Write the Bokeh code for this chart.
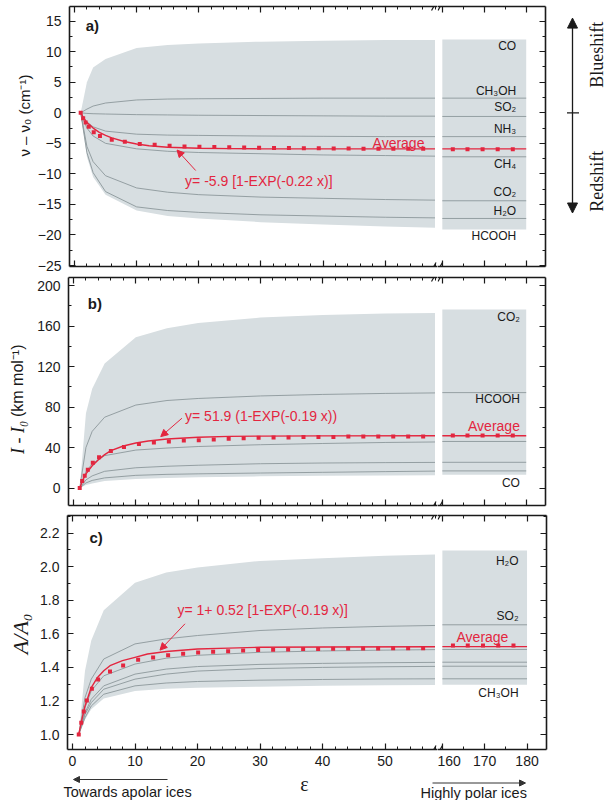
import math
from bokeh.plotting import figure
from bokeh.layouts import column, row
from bokeh.models import (LinearAxis, SingleIntervalTicker, Range1d, Label, Arrow, NormalHead,
                          CustomLabelingPolicy, PrintfTickFormatter)
from bokeh.embed import file_html
from bokeh.resources import INLINE

# ---------------- data ----------------
EPS_L = [1, 2, 3, 5, 10, 15, 20, 30, 40, 50, 58]      # dielectric constant, left segment
EPS_R = [160, 180]                                      # after the axis break

AVG_X = [1, 1.4, 1.8, 2.3, 3.1, 4.1, 6, 8.1, 10.5, 12.9, 15.3, 17.7, 20.1, 22.5,
         24.9, 27.3, 29.7, 32.1, 34.5, 36.9, 39.3, 41.7, 44.1, 46.5, 48.9, 51.3, 53.7, 56.1]
AVG_XR = [162.5, 166, 169.6, 173.2, 176.8]
FIT_X = [1, 1.5, 2, 3, 4, 5, 6, 8, 10, 12, 15, 20, 25, 30, 40, 58]

# panel a : frequency shift (cm-1)
A_CO    = [0, 5.0, 7.4, 8.8, 10.6, 11.1, 11.35, 11.65, 11.8, 11.9, 11.9]
A_CH3OH = [0, 0.6, 1.1, 1.6, 2.1, 2.25, 2.3, 2.35, 2.4, 2.4, 2.4]
A_SO2   = [0, -0.1, -0.15, -0.2, -0.3, -0.35, -0.4, -0.45, -0.5, -0.55, -0.55]
A_NH3   = [0, -1.5, -2.3, -3.0, -3.5, -3.65, -3.7, -3.8, -3.85, -3.9, -3.9]
A_CH4   = [0, -2.5, -3.8, -5.0, -5.9, -6.3, -6.5, -6.7, -6.9, -7.0, -7.1]
A_CO2   = [0, -5.5, -8.0, -10.3, -12.3, -13.0, -13.4, -13.8, -14.0, -14.2, -14.3]
A_H2O   = [0, -6.5, -9.8, -12.9, -15.4, -16.0, -16.3, -16.7, -16.9, -17.1, -17.2]
A_HCOOH = [0, -7.2, -10.5, -13.4, -16.0, -16.9, -17.3, -17.9, -18.3, -18.6, -18.8]
A_RIGHT = [12.0, 2.4, -0.6, -3.9, -7.2, -14.4, -17.3, -19.1]
A_NAMES = ["CO", "CH₃OH", "SO₂", "NH₃", "CH₄", "CO₂", "H₂O", "HCOOH"]
A_AVG = [0, -0.9, -1.6, -2.3, -3.2, -3.8, -4.4, -4.75, -5.1, -5.25, -5.4, -5.5, -5.55, -5.6,
         -5.65, -5.7, -5.72, -5.75, -5.78, -5.8, -5.82, -5.84, -5.86, -5.87, -5.88, -5.89, -5.9, -5.9]
A_AVG_R = [-5.95, -5.95, -5.95, -5.95, -5.95]
A_FIT = [0, -0.9, -1.6, -2.5, -3.2, -3.7, -4.1, -4.7, -5.1, -5.4, -5.65, -5.8, -5.87, -5.9, -5.9, -5.9]
A_FIT_R = -5.9

# panel b : intensity change (km mol-1)
B_CO2    = [0, 74, 98, 123, 149, 158, 163, 168.5, 171, 172.5, 173]
B_HCOOH  = [0, 40, 56, 70, 82, 86.5, 88.5, 91, 92.5, 93.5, 94]
B_OTHER1 = [0, 16, 24, 32, 37.5, 39.5, 41, 42.8, 44, 45, 45.5]
B_OTHER2 = [0, 8, 12, 16.5, 20, 21.5, 22.5, 24, 24.7, 25.1, 25.3]
B_OTHER3 = [0, 5, 7.5, 10, 12.5, 13.5, 14, 14.8, 15.5, 16.2, 16.7]
B_CO     = [0, 3, 4.5, 6.8, 9, 10, 10.6, 11.5, 12, 12.4, 12.6]
B_RIGHT = [176.5, 94.3, 46, 25.4, 16.9, 13]
B_NAMES = ["CO₂", "HCOOH", "CO"]
B_AVG = [0, 7, 12, 18, 25, 30.5, 36.7, 40.5, 43.6, 45.1, 46, 47, 47.2, 48, 48.7, 49.3, 49.7,
         49.9, 50, 50.3, 50.4, 50.5, 50.8, 51, 51, 51, 51, 51]
B_AVG_R = [52, 52, 52, 52, 52]
B_FIT = [0, 8, 14, 22, 28, 33, 37, 41.5, 44.5, 46.5, 48.5, 50.2, 51, 51.3, 51.5, 51.6]
B_FIT_R = 51.6

# panel c : intensity ratio A/A0
C_H2O    = [1.0, 1.38, 1.56, 1.74, 1.905, 1.965, 1.995, 2.035, 2.05, 2.065, 2.073]
C_SO2    = [1.0, 1.22, 1.33, 1.45, 1.54, 1.57, 1.59, 1.62, 1.635, 1.645, 1.65]
C_OTHER1 = [1.0, 1.16, 1.26, 1.35, 1.42, 1.455, 1.472, 1.49, 1.498, 1.503, 1.506]
C_OTHER2 = [1.0, 1.13, 1.21, 1.29, 1.36, 1.39, 1.405, 1.418, 1.424, 1.428, 1.43]
C_OTHER3 = [1.0, 1.12, 1.19, 1.27, 1.33, 1.36, 1.378, 1.393, 1.4, 1.404, 1.406]
C_OTHER4 = [1.0, 1.1, 1.17, 1.24, 1.29, 1.307, 1.316, 1.324, 1.328, 1.331, 1.332]
C_CH3OH  = [1.0, 1.09, 1.15, 1.215, 1.26, 1.272, 1.278, 1.285, 1.29, 1.293, 1.295]
C_RIGHT = [2.097, 1.654, 1.507, 1.431, 1.407, 1.332, 1.296]
C_NAMES = ["H₂O", "SO₂", "CH₃OH"]
C_AVG = [1.0, 1.07, 1.137, 1.203, 1.272, 1.328, 1.376, 1.411, 1.445, 1.459, 1.472, 1.481, 1.489,
         1.493, 1.497, 1.501, 1.503, 1.505, 1.507, 1.509, 1.51, 1.511, 1.512, 1.513, 1.513,
         1.514, 1.514, 1.514]
C_AVG_R = [1.53, 1.53, 1.53, 1.53, 1.53]
C_FIT = [1.0, 1.09, 1.17, 1.28, 1.34, 1.38, 1.41, 1.44, 1.46, 1.48, 1.495, 1.51, 1.515, 1.52, 1.522, 1.523]
C_FIT_R = 1.524

# ---------------- styling / layout ----------------
RED = "#e3263f"
BAND = "#d7dee1"
GRAY = "#8c979b"
INK = "#1a1a1a"
SANS = "Liberation Sans"
SERIF = "Liberation Serif"

XL = (-0.8, 58.4)
XR = (158.85, 184.6)
TITLE_W = 34                       # strip that carries the vertical axis titles
FW_L, FW_R, BORDER_L = 370, 111, 33
HIDE_LABELS = "for (const i of indices) indices.unset(i)"


def style_axis(ax, labels, standoff=7):
    ax.axis_line_color = INK
    ax.axis_line_width = 1.6
    ax.major_tick_line_color = INK
    ax.minor_tick_line_color = INK
    ax.major_tick_line_width = 1.2
    ax.minor_tick_line_width = 1.0
    ax.major_tick_in = 6
    ax.major_tick_out = 0
    ax.minor_tick_in = 3
    ax.minor_tick_out = 0
    if labels:
        ax.major_label_text_font = SANS
        ax.major_label_text_font_size = "14px"
        ax.major_label_text_color = INK
        ax.major_label_standoff = standoff
    else:
        ax.major_label_policy = CustomLabelingPolicy(code=HIDE_LABELS)
        ax.major_label_text_font_size = "1px"
        ax.major_label_standoff = 0
    return ax


def make_axis(step, minor, labels, standoff=6):
    return style_axis(LinearAxis(ticker=SingleIntervalTicker(interval=step, num_minor_ticks=minor)),
                      labels, standoff)


def make_fig(width, height, xr, yr, bt, bb, bl, br):
    f = figure(width=width, height=height, x_range=Range1d(*xr), y_range=yr, title=None,
               output_backend="svg", toolbar_location=None,
               x_axis_location=None, y_axis_location=None)
    f.min_border_top = bt
    f.min_border_bottom = bb
    f.min_border_left = bl
    f.min_border_right = br
    f.outline_line_color = None
    f.grid.visible = False
    f.background_fill_color = "white"
    f.border_fill_color = "white"
    return f


def txt(f, x, y, text, size="12px", color=INK, font=SANS, align="left", style="normal", angle=0):
    f.add_layout(Label(x=x, y=y, text=text, text_font=font, text_font_size=size, text_color=color,
                       text_align=align, text_baseline="middle", text_font_style=style, angle=angle))


def build_panel(yr, frame_h, bt, bb, y_step, y_minor, curves, right_vals, avg_l, avg_r, fit_l, fit_r,
                x_labels, y_fmt=None):
    h = bt + frame_h + bb
    ft = make_fig(TITLE_W, h, (0, TITLE_W), yr, bt, bb, 0, 0)
    fl = make_fig(BORDER_L + FW_L, h, XL, yr, bt, bb, BORDER_L, 0)
    fr = make_fig(FW_R + 2, h, XR, yr, bt, bb, 0, 2)
    fl.varea(x=EPS_L, y1=curves[-1], y2=curves[0], fill_color=BAND)
    fr.varea(x=EPS_R, y1=[right_vals[-1]] * 2, y2=[right_vals[0]] * 2, fill_color=BAND)
    for c in curves[1:-1]:
        fl.line(EPS_L, c, line_color=GRAY, line_width=0.9)
    for v in right_vals[1:-1]:
        fr.line(EPS_R, [v, v], line_color=GRAY, line_width=0.9)
    fl.line(FIT_X, fit_l, line_color=RED, line_width=1.4)
    fr.line(EPS_R, [fit_r, fit_r], line_color=RED, line_width=1.4)
    fl.scatter(AVG_X, avg_l, marker="square", size=4, fill_color=RED, line_color=None)
    fr.scatter(AVG_XR, avg_r, marker="square", size=4, fill_color=RED, line_color=None)

    yax = make_axis(y_step, y_minor, True, standoff=8)
    if y_fmt:
        yax.formatter = PrintfTickFormatter(format=y_fmt)
    fl.add_layout(yax, "left")
    fl.add_layout(make_axis(10, 5, False), "above")
    fl.add_layout(make_axis(10, 5, x_labels), "below")
    fr.add_layout(make_axis(y_step, y_minor, False), "right")
    fr.add_layout(make_axis(10, 2, False), "above")
    fr.add_layout(make_axis(10, 2, x_labels), "below")

    # axis-break marks
    sxl = FW_L / (XL[1] - XL[0])
    sxr = FW_R / (XR[1] - XR[0])
    sy = frame_h / (yr.end - yr.start)
    for ye in (yr.start, yr.end):
        fl.add_layout(Arrow(end=None, x_start=XL[1] - 6 / sxl, y_start=ye - 4 / sy,
                            x_end=XL[1] - 1.5 / sxl, y_end=ye + 4 / sy, line_color=INK, line_width=1.2))
        fr.add_layout(Arrow(end=None, x_start=XR[0] + 0.5 / sxr, y_start=ye - 4 / sy,
                            x_end=XR[0] + 5 / sxr, y_end=ye + 4 / sy, line_color=INK, line_width=1.2))
    return ft, fl, fr, h


def eq_arrow(f, xs, ys, xe, ye):
    f.add_layout(Arrow(end=NormalHead(size=7, fill_color=RED, line_color=RED),
                       x_start=xs, y_start=ys, x_end=xe, y_end=ye, line_color=RED, line_width=1))


# ---------- panel a ----------
A_YR = Range1d(-25.16, 17.4)
fat, fal, far, ha = build_panel(A_YR, 260, 6, 7, 5, 2,
                                [A_CO, A_CH3OH, A_SO2, A_NH3, A_CH4, A_CO2, A_H2O, A_HCOOH],
                                A_RIGHT, A_AVG, A_AVG_R, A_FIT, A_FIT_R, False)
txt(fat, 24, -0.45, "ν – ν₀ (cm⁻¹)", size="15px", align="center", angle=math.pi / 2)
txt(fal, 1.8, 14.3, "a)", size="15px", style="bold")
txt(fal, 17.8, -11.1, "y= -5.9 [1-EXP(-0.22 x)]", size="14px", color=RED)
eq_arrow(fal, 19.5, -9.45, 16.5, -6.1)
txt(fal, 56.3, -5.0, "Average", size="14px", color=RED, align="right")
for name, yv in zip(A_NAMES, [11.0, 3.5, 0.9, -2.6, -8.3, -13.0, -16.0, -20.1]):
    txt(far, 177.6, yv, name, align="right")

fs = make_fig(55, ha, (0, 55), A_YR, 6, 7, 0, 0)
fs.add_layout(Arrow(start=NormalHead(size=10, fill_color=INK, line_color=INK),
                    end=NormalHead(size=10, fill_color=INK, line_color=INK),
                    x_start=22, y_start=-16.4, x_end=22, y_end=15.5, line_color=INK, line_width=1.3))
fs.add_layout(Arrow(end=None, x_start=16.5, y_start=0, x_end=28.5, y_end=0, line_color=INK, line_width=1.2))
txt(fs, 46, 9.5, "Blueshift", size="18px", font=SERIF, align="center", angle=math.pi / 2)
txt(fs, 46, -11.2, "Redshift", size="18px", font=SERIF, align="center", angle=math.pi / 2)

# ---------- panel b ----------
B_YR = Range1d(-17.3, 208.1)
fbt, fbl, fbr, hb = build_panel(B_YR, 231, 2, 3, 40, 2,
                                [B_CO2, B_HCOOH, B_OTHER1, B_OTHER2, B_OTHER3, B_CO],
                                B_RIGHT, B_AVG, B_AVG_R, B_FIT, B_FIT_R, False)
txt(fbt, 17, 50, "I - I₀", size="18px", font=SERIF, style="italic", align="center", angle=math.pi / 2)
txt(fbt, 17, 106, "(km mol⁻¹)", size="16px", align="center", angle=math.pi / 2)
txt(fbl, 2.3, 182, "b)", size="15px", style="bold")
txt(fbl, 17.9, 71, "y= 51.9 (1-EXP(-0.19 x))", size="14px", color=RED)
eq_arrow(fbl, 17.4, 69, 14.0, 50.8)
txt(fbr, 178.5, 60.8, "Average", size="14px", color=RED, align="right")
for name, yv in zip(B_NAMES, [169, 87.8, 4.9]):
    txt(fbr, 178.5, yv, name, align="right")

# ---------- panel c ----------
C_YR = Range1d(0.9106, 2.3055)
fct, fcl, fcr, hc = build_panel(C_YR, 234, 6, 24, 0.2, 2,
                                [C_H2O, C_SO2, C_OTHER1, C_OTHER2, C_OTHER3, C_OTHER4, C_CH3OH],
                                C_RIGHT, C_AVG, C_AVG_R, C_FIT, C_FIT_R, True, y_fmt="%.1f")
txt(fct, 20, 1.6, "A/A₀", size="22px", font=SERIF, style="italic", align="center", angle=math.pi / 2)
txt(fcl, 2.7, 2.176, "c)", size="15px", style="bold")
txt(fcl, 16.8, 1.745, "y= 1+ 0.52 [1-EXP(-0.19 x)]", size="14px", color=RED)
eq_arrow(fcl, 18.0, 1.66, 14.0, 1.503)
txt(fcr, 175.6, 1.58, "Average", size="14px", color=RED, align="right")
for name, yv in zip(C_NAMES, [2.033, 1.709, 1.246]):
    txt(fcr, 178, yv, name, align="right")

# ---------- bottom captions ----------
fz = make_fig(605, 27, (0, 605), Range1d(27, 0), 0, 0, 0, 0)
fz.add_layout(Arrow(end=NormalHead(size=6, fill_color="#333", line_color="#333"),
                    x_start=167, y_start=6, x_end=73, y_end=6, line_color="#333", line_width=1))
fz.add_layout(Arrow(end=NormalHead(size=6, fill_color="#333", line_color="#333"),
                    x_start=432, y_start=9.5, x_end=525, y_end=9.5, line_color="#333", line_width=1))
txt(fz, 63, 18, "Towards apolar ices", size="14.5px")
txt(fz, 304, 10, "ε", size="20px", font=SERIF, align="center")
txt(fz, 420, 19, "Highly polar ices", size="14.5px")

layout = column(row(fat, fal, far, fs), row(fbt, fbl, fbr), row(fct, fcl, fcr), fz)
open("out.html", "w").write(file_html(layout, INLINE, title="Solvent effects"))
